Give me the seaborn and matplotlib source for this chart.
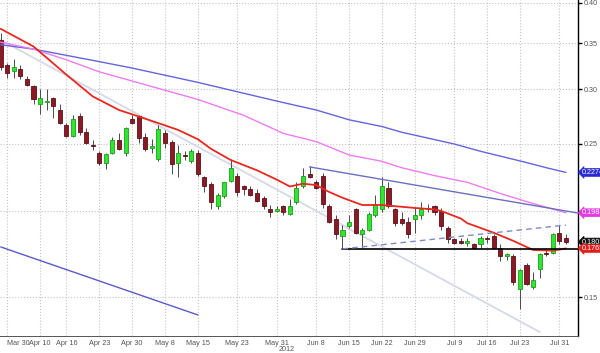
import numpy as np
import pandas as pd
import matplotlib
matplotlib.use('Agg')
import matplotlib.pyplot as plt
import matplotlib.transforms as mtransforms
from matplotlib.ticker import FixedLocator, NullLocator, MultipleLocator
import seaborn as sns

sns.set_style('white')
plt.rcParams['font.family'] = ['Liberation Sans', 'DejaVu Sans']

# ===== daily candles (trading-day index 0..86) =====
opens = [.354, .325, .319, .321, .310, .303, .286, .288, .291, .280,
         .266, .257, .274, .260, .249, .243, .235, .243, .253, .243,
         .272, .274, .256, .247, .238, .259, .252, .235, .241, .236,
         .243, .224, .219, .203, .210, .221, .225, .217, .215, .212,
         .209, .201, .200, .203, .198, .206, .217, .226, .220, .225,
         .203, .195, .184, .190, .201, .185, .188, .197, .201, .216,
         .201, .195, .193, .195, .197, .201, .203, .200, .189, .182,
         .181, .180, .179, .179, .183, .184, .177, .172, .172, .154,
         .167, .155, .165, .174, .174, .186, .183]
highs = [.362, .328, .332, .325, .314, .304, .300, .300, .292, .286,
         .268, .275, .277, .264, .253, .244, .243, .256, .259, .265,
         .275, .275, .259, .254, .266, .262, .253, .249, .244, .246,
         .245, .225, .220, .212, .220, .238, .227, .218, .217, .215,
         .210, .204, .203, .204, .208, .220, .231, .232, .222, .227,
         .205, .197, .191, .197, .202, .189, .199, .211, .224, .220,
         .202, .199, .196, .202, .206, .205, .204, .202, .190, .183,
         .183, .183, .180, .184, .184, .185, .179, .174, .173, .165,
         .168, .163, .174, .177, .186, .191, .185]
lows = [.320, .312, .312, .310, .303, .286, .276, .280, .273, .267,
        .256, .256, .258, .250, .245, .233, .230, .242, .245, .240,
        .267, .251, .244, .243, .236, .247, .226, .224, .237, .235,
        .225, .213, .201, .201, .209, .220, .210, .211, .210, .206,
        .201, .196, .199, .197, .197, .205, .216, .223, .215, .202,
        .192, .182, .177, .189, .185, .177, .187, .196, .199, .202,
        .190, .191, .183, .186, .195, .199, .197, .188, .180, .179,
        .179, .178, .176, .177, .180, .176, .169, .170, .156, .144,
        .156, .154, .160, .172, .173, .179, .179]
closes = [.323, .317, .323, .314, .304, .290, .291, .289, .284, .268,
          .257, .272, .260, .251, .248, .235, .242, .253, .246, .264,
          .268, .255, .246, .248, .263, .251, .234, .243, .240, .244,
          .226, .217, .206, .211, .220, .231, .213, .215, .211, .207,
          .203, .199, .201, .199, .203, .216, .225, .224, .216, .205,
          .193, .185, .188, .193, .186, .188, .198, .205, .217, .203,
          .192, .192, .185, .197, .201, .202, .199, .190, .182, .180,
          .180, .181, .177, .183, .182, .177, .172, .173, .158, .164,
          .157, .159, .173, .173, .185, .181, .1803]

# ===== moving averages =====
red_ma_idx = [0, 5, 10, 14, 18, 21, 25, 27, 30, 32, 35, 39, 42, 44, 46,
              48, 50, 52, 55, 58, 63, 66, 67, 70, 71, 75, 78, 81, 84, 86]
red_ma_val = [.367, .346, .315, .293, .280, .274, .266, .262, .254, .246,
              .237, .229, .222, .217, .219, .218, .213, .209, .204, .204,
              .202, .201, .200, .195, .192, .186, .181, .1756, .1752, .1765]
blue_ma_idx = [0, 5, 15, 20, 30, 37, 43, 48, 53, 58, 61, 69, 73, 80, 83, 86]
blue_ma_val = [.348, .343, .329, .322, .307, .296, .287, .280, .271, .265,
               .260, .250, .244, .235, .231, .2274]
pink_ma_idx = [0, 5, 10, 15, 30, 37, 43, 48, 53, 58, 61, 66, 71, 76, 81, 86]
pink_ma_val = [.351, .343, .331, .318, .290, .275, .259, .252, .241, .236,
               .231, .225, .220, .212, .205, .1988]

# ===== drawn trend lines (start/end) =====
fade_line_idx, fade_line_val = [0, 82], [.3536, .1336]
low_line_idx, low_line_val = [0, 30], [.1774, .1414]
resist_idx, resist_val = [47, 87.8], [.2316, .1986]
support_idx, support_val = [52, 87.8], [.1762, .1762]
dash_idx, dash_val = [52, 86], [.1762, .1908]

tick_pos = [1, 6, 10, 15, 20, 25, 30, 36, 42, 48, 53, 58, 63, 69, 74, 79, 85]
tick_labels = ['Mar 30', 'Apr 10', 'Apr 16', 'Apr 23', 'Apr 30', 'May 8',
               'May 15', 'May 23', 'May 31', 'Jun 8', 'Jun 15', 'Jun 22',
               'Jun 29', 'Jul 9', 'Jul 16', 'Jul 23', 'Jul 31']
y_ticks = [0.15, 0.20, 0.25, 0.30, 0.35, 0.40]
y_tick_labels = ['0.15', '', '0.25', '0.30', '0.35', '0.40']  # 0.20 sits under the tag

tags = [('0.2274', 0.2274, '#2a2ad0'), ('0.1988', 0.1988, '#e03ce0'),
        ('0.1803', 0.1803, '#111111'), ('0.1765', 0.1765, '#e0201c')]

df = pd.DataFrame({'open': opens, 'high': highs, 'low': lows, 'close': closes})
df['idx'] = np.arange(len(df))
df['up'] = df['close'] >= df['open']

fig = plt.figure(figsize=(6, 3.53), dpi=100)
ax = fig.add_axes([0, 0.048, 0.963, 0.952])
ax.set_yscale('log')

# trend lines
sns.lineplot(x=fade_line_idx, y=fade_line_val, ax=ax, color='#d6d9e6', lw=1.3, zorder=2)
sns.lineplot(x=low_line_idx, y=low_line_val, ax=ax, color='#5a5ac8', lw=1.0, zorder=2)

# candles
ax.vlines(df['idx'], df['low'], df['high'], color='#4a4a4a', lw=0.7, zorder=3)
body_lo = df[['open', 'close']].min(axis=1)
body_h = (df['close'] - df['open']).abs()
face = np.where(df['up'], '#2ee62e', '#8c1a26')
edge = np.where(df['up'], '#1e9e1e', '#5e0f18')
ax.bar(df['idx'], body_h, bottom=body_lo, width=0.62, color=face,
       edgecolor=edge, linewidth=0.6, zorder=4)

# moving averages
sns.lineplot(x=blue_ma_idx, y=blue_ma_val, ax=ax, color='#6464dc', lw=1.0, zorder=5)
sns.lineplot(x=pink_ma_idx, y=pink_ma_val, ax=ax, color='#ee7cee', lw=1.0, zorder=5)
sns.lineplot(x=red_ma_idx, y=red_ma_val, ax=ax, color='#e8281e', lw=1.3, zorder=5)

# support / resistance
sns.lineplot(x=resist_idx, y=resist_val, ax=ax, color='#6a6fc0', lw=1.0, zorder=5)
sns.lineplot(x=support_idx, y=support_val, ax=ax, color='black', lw=1.2, zorder=5)
ax.plot(dash_idx, dash_val, color='#7c8ac8', lw=1.0, dashes=(4, 3), zorder=5)

ax.set_xlim(-0.1, 87.8)
ax.set_ylim(0.1318, 0.404)

ax.yaxis.tick_right()
ax.yaxis.set_major_locator(FixedLocator(y_ticks))
ax.yaxis.set_minor_locator(NullLocator())
ax.set_yticklabels(y_tick_labels)
ax.set_xticks(tick_pos)
ax.set_xticklabels(tick_labels)
ax.xaxis.set_minor_locator(MultipleLocator(1))
# first label would be clipped at the left edge, nudge it
first = ax.get_xticklabels()[0]
first.set_horizontalalignment('left')
first.set_transform(first.get_transform() +
                    mtransforms.ScaledTranslation(-3 / 100, 0, fig.dpi_scale_trans))

ax.tick_params(axis='y', which='major', direction='out', length=3, width=1,
               color='black', labelcolor='#555555', labelsize=5.2, pad=1)
ax.tick_params(axis='x', which='major', direction='out', length=2, width=0.6,
               color='#444444', labelcolor='#555555', labelsize=5.2, pad=0.8)
ax.tick_params(axis='x', which='minor', direction='out', length=1.5, width=0.5,
               color='#666666')
ax.set_xlabel('')
ax.set_ylabel('')

ax.grid(True, which='major', color='#c4c4c4', linestyle=':', lw=0.8)
ax.set_axisbelow(True)
for s in ['left', 'top']:
    ax.spines[s].set_visible(False)
ax.spines['right'].set_color('black')
ax.spines['right'].set_linewidth(1.0)
ax.spines['bottom'].set_color('#555555')
ax.spines['bottom'].set_linewidth(0.7)

# last-value tags on the right
trans = mtransforms.blended_transform_factory(ax.transAxes, ax.transData)
for txt, val, col in tags:
    ax.text(1.0075, val, txt, transform=trans, ha='left', va='center',
            fontsize=5.2, color='white', clip_on=False, zorder=10,
            bbox=dict(boxstyle='larrow,pad=0.06', fc=col, ec=col, lw=0.5))

fig.text(287 / 600, 1 - 349.5 / 353, '2012', ha='center', va='center',
         fontsize=5.2, color='#555555')

fig.savefig('out.png', dpi=100)
